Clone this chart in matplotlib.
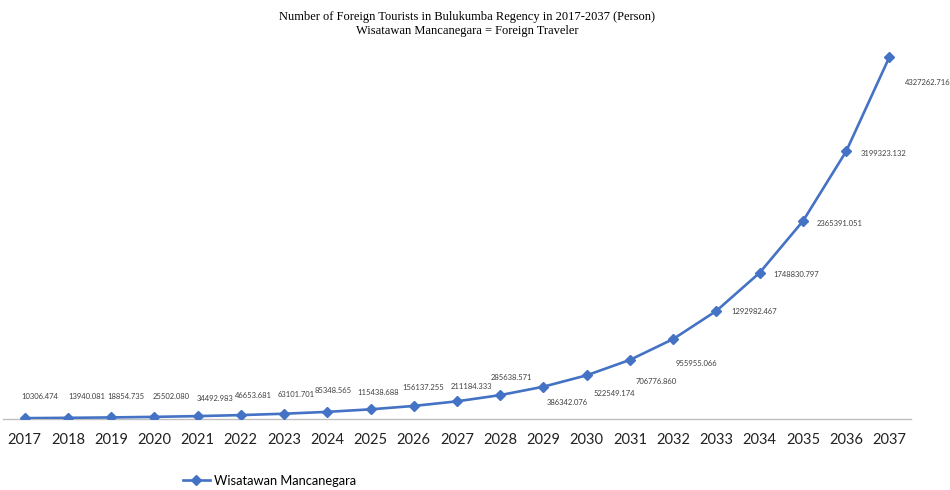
import matplotlib
matplotlib.use("Agg")
import matplotlib.pyplot as plt

years = [str(y) for y in range(2017, 2038)]
tourists = [10306.474, 13940.081, 18854.735, 25502.080, 34492.983, 46653.681,
            63101.701, 85348.565, 115438.688, 156137.255, 211184.333, 285638.571,
            386342.076, 522549.174, 706776.860, 955955.066, 1292982.467,
            1748830.797, 2365391.051, 3199323.132, 4327262.716]
series_name = "Wisatawan Mancanegara"
title = "Number of Foreign Tourists in Bulukumba Regency in 2017-2037 (Person)\nWisatawan Mancanegara = Foreign Traveler"

# label offsets in pixels (layout only)
label_offsets = [(15, 22), (19, 21), (15, 21), (17, 20), (17, 18), (13, 20),
                 (12, 19), (6, 21), (8, 17), (9, 18), (14, 15), (11, 18),
                 (24, -16), (28, -18), (26, -22), (23, -24), (38, -1),
                 (37, -2), (37, -2), (37, -2), (38, -25)]

W, H = 950, 490
fig = plt.figure(figsize=(W / 100, H / 100), dpi=100)
ax_bottom = 419
ax_top = 42.6
ax = fig.add_axes([3 / W, (H - ax_bottom) / H, 908 / W, (ax_bottom - ax_top) / H])

color = "#4472C4"
x = list(range(len(years)))
line, = ax.plot(x, tourists, color=color, lw=1.9, marker="D", markersize=5,
                label=series_name, zorder=3)

for xi, v, (dx, dy) in zip(x, tourists, label_offsets):
    ax.annotate(f"{v:.3f}", (xi, v), xytext=(dx, dy), textcoords="offset pixels",
                ha="center", va="center", fontsize=5.5, family="Lato",
                color="#404040")

ax.set_xlim(-0.5, len(years) - 0.5)
ax.set_ylim(0, 4.5e6)
ax.set_xticks(x)
ax.set_xticklabels(years, fontsize=10.5, family="Lato", color="#222222")
ax.tick_params(axis="x", length=0, pad=10)
ax.set_yticks([])
for s in ["top", "right", "left"]:
    ax.spines[s].set_visible(False)
ax.spines["bottom"].set_color("#BFBFBF")
ax.spines["bottom"].set_linewidth(1.0)
ax.patch.set_alpha(0)

fig.text(467 / W, 1 - 24 / H, title, ha="center", va="center",
         fontsize=9.0, family="Liberation Serif", linespacing=1.15)

fig.legend(handles=[line], loc="center left", bbox_to_anchor=(171 / W, 1 - 481 / H),
           frameon=False, prop={"family": "Lato", "size": 9.3}, handlelength=2.1,
           handletextpad=0.35)

fig.savefig("out.png", dpi=100)
